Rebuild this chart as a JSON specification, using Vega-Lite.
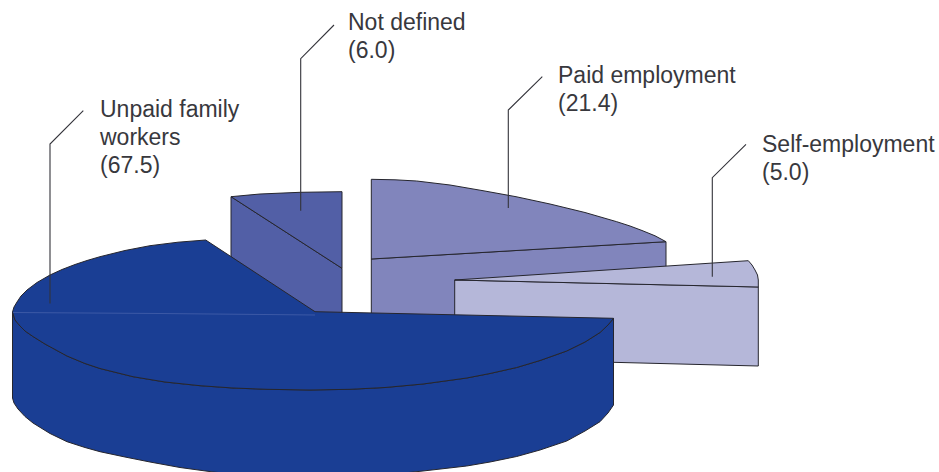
{"$schema":"https://vega.github.io/schema/vega-lite/v6.json","width":939,"height":472,"padding":0,"autosize":{"type":"fit","contains":"padding"},"background":"white","view":{"stroke":null},
"datasets":{"shapes":[
{"slice":"Paid employment","part":"paid-side","n":1,"x":371.3,"y":259},{"slice":"Paid employment","part":"paid-side","n":2,"x":666,"y":241.7},{"slice":"Paid employment","part":"paid-side","n":3,"x":666,"y":330},{"slice":"Paid employment","part":"paid-side","n":4,"x":371.3,"y":330},{"slice":"Paid employment","part":"paid-side","n":5,"x":371.3,"y":259},
{"slice":"Paid employment","part":"paid-top","n":1,"x":371.3,"y":179.3},{"slice":"Paid employment","part":"paid-top","n":2,"x":395,"y":179.8},{"slice":"Paid employment","part":"paid-top","n":3,"x":416.7,"y":181},{"slice":"Paid employment","part":"paid-top","n":4,"x":450,"y":185},{"slice":"Paid employment","part":"paid-top","n":5,"x":483,"y":190.7},{"slice":"Paid employment","part":"paid-top","n":6,"x":516,"y":196.7},{"slice":"Paid employment","part":"paid-top","n":7,"x":550,"y":204},{"slice":"Paid employment","part":"paid-top","n":8,"x":585,"y":212.5},{"slice":"Paid employment","part":"paid-top","n":9,"x":616.7,"y":221.7},{"slice":"Paid employment","part":"paid-top","n":10,"x":630,"y":226},{"slice":"Paid employment","part":"paid-top","n":11,"x":642,"y":230.5},{"slice":"Paid employment","part":"paid-top","n":12,"x":655,"y":235.8},{"slice":"Paid employment","part":"paid-top","n":13,"x":666,"y":241.7},{"slice":"Paid employment","part":"paid-top","n":14,"x":371.3,"y":259},{"slice":"Paid employment","part":"paid-top","n":15,"x":371.3,"y":179.3},
{"slice":"Not defined","part":"nd-side","n":1,"x":231,"y":196.7},{"slice":"Not defined","part":"nd-side","n":2,"x":342,"y":268.3},{"slice":"Not defined","part":"nd-side","n":3,"x":342,"y":320},{"slice":"Not defined","part":"nd-side","n":4,"x":315,"y":320},{"slice":"Not defined","part":"nd-side","n":5,"x":231,"y":256.7},{"slice":"Not defined","part":"nd-side","n":6,"x":231,"y":196.7},
{"slice":"Not defined","part":"nd-top","n":1,"x":231,"y":196.7},{"slice":"Not defined","part":"nd-top","n":2,"x":260,"y":194},{"slice":"Not defined","part":"nd-top","n":3,"x":300,"y":192.3},{"slice":"Not defined","part":"nd-top","n":4,"x":342,"y":191.7},{"slice":"Not defined","part":"nd-top","n":5,"x":342,"y":268.3},{"slice":"Not defined","part":"nd-top","n":6,"x":231,"y":196.7},
{"slice":"Self-employment","part":"self-side","n":1,"x":454.7,"y":280},{"slice":"Self-employment","part":"self-side","n":2,"x":758.3,"y":287},{"slice":"Self-employment","part":"self-side","n":3,"x":758.3,"y":366},{"slice":"Self-employment","part":"self-side","n":4,"x":613,"y":362.3},{"slice":"Self-employment","part":"self-side","n":5,"x":454.7,"y":358},{"slice":"Self-employment","part":"self-side","n":6,"x":454.7,"y":280},
{"slice":"Self-employment","part":"self-top","n":1,"x":454.7,"y":280},{"slice":"Self-employment","part":"self-top","n":2,"x":748.3,"y":260.7},{"slice":"Self-employment","part":"self-top","n":3,"x":752,"y":265},{"slice":"Self-employment","part":"self-top","n":4,"x":755,"y":270},{"slice":"Self-employment","part":"self-top","n":5,"x":757.5,"y":275},{"slice":"Self-employment","part":"self-top","n":6,"x":758.3,"y":280},{"slice":"Self-employment","part":"self-top","n":7,"x":758.3,"y":287},{"slice":"Self-employment","part":"self-top","n":8,"x":454.7,"y":280},
{"slice":"Unpaid family workers","part":"main-side","n":1,"x":12.5,"y":312},{"slice":"Unpaid family workers","part":"main-side","n":2,"x":15,"y":320},{"slice":"Unpaid family workers","part":"main-side","n":3,"x":20,"y":326},{"slice":"Unpaid family workers","part":"main-side","n":4,"x":25,"y":331},{"slice":"Unpaid family workers","part":"main-side","n":5,"x":33,"y":336.5},{"slice":"Unpaid family workers","part":"main-side","n":6,"x":45,"y":344},{"slice":"Unpaid family workers","part":"main-side","n":7,"x":67,"y":356},{"slice":"Unpaid family workers","part":"main-side","n":8,"x":85,"y":363.5},{"slice":"Unpaid family workers","part":"main-side","n":9,"x":100,"y":368.5},{"slice":"Unpaid family workers","part":"main-side","n":10,"x":133,"y":376.7},{"slice":"Unpaid family workers","part":"main-side","n":11,"x":165,"y":382},{"slice":"Unpaid family workers","part":"main-side","n":12,"x":200,"y":385.7},{"slice":"Unpaid family workers","part":"main-side","n":13,"x":233,"y":388},{"slice":"Unpaid family workers","part":"main-side","n":14,"x":267,"y":389.3},{"slice":"Unpaid family workers","part":"main-side","n":15,"x":310,"y":390},{"slice":"Unpaid family workers","part":"main-side","n":16,"x":350,"y":389.3},{"slice":"Unpaid family workers","part":"main-side","n":17,"x":385,"y":387.5},{"slice":"Unpaid family workers","part":"main-side","n":18,"x":423,"y":384},{"slice":"Unpaid family workers","part":"main-side","n":19,"x":445,"y":381},{"slice":"Unpaid family workers","part":"main-side","n":20,"x":466.7,"y":378},{"slice":"Unpaid family workers","part":"main-side","n":21,"x":490,"y":373.5},{"slice":"Unpaid family workers","part":"main-side","n":22,"x":516.7,"y":367.5},{"slice":"Unpaid family workers","part":"main-side","n":23,"x":540,"y":360.5},{"slice":"Unpaid family workers","part":"main-side","n":24,"x":566.7,"y":351},{"slice":"Unpaid family workers","part":"main-side","n":25,"x":585,"y":342},{"slice":"Unpaid family workers","part":"main-side","n":26,"x":600,"y":332.5},{"slice":"Unpaid family workers","part":"main-side","n":27,"x":608,"y":325},{"slice":"Unpaid family workers","part":"main-side","n":28,"x":613.5,"y":318.3},{"slice":"Unpaid family workers","part":"main-side","n":29,"x":613.5,"y":405},{"slice":"Unpaid family workers","part":"main-side","n":30,"x":608,"y":413},{"slice":"Unpaid family workers","part":"main-side","n":31,"x":600,"y":421.7},{"slice":"Unpaid family workers","part":"main-side","n":32,"x":585,"y":431},{"slice":"Unpaid family workers","part":"main-side","n":33,"x":566.7,"y":441},{"slice":"Unpaid family workers","part":"main-side","n":34,"x":540,"y":450},{"slice":"Unpaid family workers","part":"main-side","n":35,"x":516.7,"y":456.5},{"slice":"Unpaid family workers","part":"main-side","n":36,"x":490,"y":462},{"slice":"Unpaid family workers","part":"main-side","n":37,"x":466.7,"y":466},{"slice":"Unpaid family workers","part":"main-side","n":38,"x":423,"y":471},{"slice":"Unpaid family workers","part":"main-side","n":39,"x":385,"y":475},{"slice":"Unpaid family workers","part":"main-side","n":40,"x":350,"y":477},{"slice":"Unpaid family workers","part":"main-side","n":41,"x":310,"y":478},{"slice":"Unpaid family workers","part":"main-side","n":42,"x":260,"y":476.5},{"slice":"Unpaid family workers","part":"main-side","n":43,"x":213,"y":472},{"slice":"Unpaid family workers","part":"main-side","n":44,"x":180,"y":467.5},{"slice":"Unpaid family workers","part":"main-side","n":45,"x":150,"y":462},{"slice":"Unpaid family workers","part":"main-side","n":46,"x":125,"y":457},{"slice":"Unpaid family workers","part":"main-side","n":47,"x":100,"y":451.7},{"slice":"Unpaid family workers","part":"main-side","n":48,"x":85,"y":447.5},{"slice":"Unpaid family workers","part":"main-side","n":49,"x":67,"y":441.7},{"slice":"Unpaid family workers","part":"main-side","n":50,"x":50,"y":433.5},{"slice":"Unpaid family workers","part":"main-side","n":51,"x":33,"y":423},{"slice":"Unpaid family workers","part":"main-side","n":52,"x":25,"y":416.5},{"slice":"Unpaid family workers","part":"main-side","n":53,"x":18,"y":409},{"slice":"Unpaid family workers","part":"main-side","n":54,"x":14,"y":403},{"slice":"Unpaid family workers","part":"main-side","n":55,"x":12.5,"y":398},{"slice":"Unpaid family workers","part":"main-side","n":56,"x":12.5,"y":312},
{"slice":"Unpaid family workers","part":"main-top","n":1,"x":12.5,"y":312},{"slice":"Unpaid family workers","part":"main-top","n":2,"x":14,"y":307},{"slice":"Unpaid family workers","part":"main-top","n":3,"x":17,"y":302},{"slice":"Unpaid family workers","part":"main-top","n":4,"x":21,"y":296},{"slice":"Unpaid family workers","part":"main-top","n":5,"x":27,"y":290},{"slice":"Unpaid family workers","part":"main-top","n":6,"x":37,"y":282.5},{"slice":"Unpaid family workers","part":"main-top","n":7,"x":50,"y":275},{"slice":"Unpaid family workers","part":"main-top","n":8,"x":62,"y":269.5},{"slice":"Unpaid family workers","part":"main-top","n":9,"x":75,"y":264.5},{"slice":"Unpaid family workers","part":"main-top","n":10,"x":87,"y":260.5},{"slice":"Unpaid family workers","part":"main-top","n":11,"x":100,"y":256.7},{"slice":"Unpaid family workers","part":"main-top","n":12,"x":125,"y":250.5},{"slice":"Unpaid family workers","part":"main-top","n":13,"x":150,"y":245.7},{"slice":"Unpaid family workers","part":"main-top","n":14,"x":178,"y":242.2},{"slice":"Unpaid family workers","part":"main-top","n":15,"x":205.7,"y":240},{"slice":"Unpaid family workers","part":"main-top","n":16,"x":315,"y":311.7},{"slice":"Unpaid family workers","part":"main-top","n":17,"x":613.5,"y":318.3},{"slice":"Unpaid family workers","part":"main-top","n":18,"x":608,"y":325},{"slice":"Unpaid family workers","part":"main-top","n":19,"x":600,"y":332.5},{"slice":"Unpaid family workers","part":"main-top","n":20,"x":585,"y":342},{"slice":"Unpaid family workers","part":"main-top","n":21,"x":566.7,"y":351},{"slice":"Unpaid family workers","part":"main-top","n":22,"x":540,"y":360.5},{"slice":"Unpaid family workers","part":"main-top","n":23,"x":516.7,"y":367.5},{"slice":"Unpaid family workers","part":"main-top","n":24,"x":490,"y":373.5},{"slice":"Unpaid family workers","part":"main-top","n":25,"x":466.7,"y":378},{"slice":"Unpaid family workers","part":"main-top","n":26,"x":445,"y":381},{"slice":"Unpaid family workers","part":"main-top","n":27,"x":423,"y":384},{"slice":"Unpaid family workers","part":"main-top","n":28,"x":385,"y":387.5},{"slice":"Unpaid family workers","part":"main-top","n":29,"x":350,"y":389.3},{"slice":"Unpaid family workers","part":"main-top","n":30,"x":310,"y":390},{"slice":"Unpaid family workers","part":"main-top","n":31,"x":267,"y":389.3},{"slice":"Unpaid family workers","part":"main-top","n":32,"x":233,"y":388},{"slice":"Unpaid family workers","part":"main-top","n":33,"x":200,"y":385.7},{"slice":"Unpaid family workers","part":"main-top","n":34,"x":165,"y":382},{"slice":"Unpaid family workers","part":"main-top","n":35,"x":133,"y":376.7},{"slice":"Unpaid family workers","part":"main-top","n":36,"x":100,"y":368.5},{"slice":"Unpaid family workers","part":"main-top","n":37,"x":85,"y":363.5},{"slice":"Unpaid family workers","part":"main-top","n":38,"x":67,"y":356},{"slice":"Unpaid family workers","part":"main-top","n":39,"x":45,"y":344},{"slice":"Unpaid family workers","part":"main-top","n":40,"x":33,"y":336.5},{"slice":"Unpaid family workers","part":"main-top","n":41,"x":25,"y":331},{"slice":"Unpaid family workers","part":"main-top","n":42,"x":20,"y":326},{"slice":"Unpaid family workers","part":"main-top","n":43,"x":15,"y":320},{"slice":"Unpaid family workers","part":"main-top","n":44,"x":12.5,"y":312}
],
"sheen":[{"n":1,"x":13,"y":312.5},{"n":2,"x":160,"y":313.5},{"n":3,"x":315,"y":315}],
"leaders":[
{"slice":"Unpaid family workers","n":1,"x":83.3,"y":110.7},{"slice":"Unpaid family workers","n":2,"x":50,"y":144},{"slice":"Unpaid family workers","n":3,"x":50,"y":303.5},
{"slice":"Not defined","n":1,"x":334,"y":25},{"slice":"Not defined","n":2,"x":300.7,"y":58.7},{"slice":"Not defined","n":3,"x":300.7,"y":210.7},
{"slice":"Paid employment","n":1,"x":542.3,"y":76.7},{"slice":"Paid employment","n":2,"x":508.3,"y":110},{"slice":"Paid employment","n":3,"x":508.3,"y":208},
{"slice":"Self-employment","n":1,"x":746,"y":144.3},{"slice":"Self-employment","n":2,"x":712.3,"y":177.7},{"slice":"Self-employment","n":3,"x":712.3,"y":276.7}],
"labels":[
{"text":"Unpaid family","x":100,"y":117},{"text":"workers","x":100,"y":145},{"text":"(67.5)","x":100,"y":173},
{"text":"Not defined","x":348,"y":30},{"text":"(6.0)","x":348,"y":58},
{"text":"Paid employment","x":558,"y":83},{"text":"(21.4)","x":558,"y":111},
{"text":"Self-employment","x":762,"y":152},{"text":"(5.0)","x":762,"y":180}]},
"layer":[
{"data":{"name":"shapes"},"mark":{"type":"line","stroke":"#26262e","strokeWidth":1,"strokeJoin":"round","interpolate":"linear","clip":true},
"encoding":{"x":{"field":"x","type":"quantitative","scale":{"domain":[0,939],"nice":false,"zero":false},"axis":null},"y":{"field":"y","type":"quantitative","scale":{"domain":[472,0],"nice":false,"zero":false},"axis":null},"detail":{"field":"part"},"order":{"field":"n"},"fill":{"field":"slice","type":"nominal","legend":null,"scale":{"domain":["Unpaid family workers","Not defined","Paid employment","Self-employment"],"range":["#1a3e94","#525fa6","#8185bc","#b5b7d9"]}}}},
{"data":{"name":"sheen"},"mark":{"type":"line","stroke":"#4a64ae","strokeWidth":0.7},"encoding":{"x":{"field":"x","type":"quantitative","scale":{"domain":[0,939],"nice":false,"zero":false},"axis":null},"y":{"field":"y","type":"quantitative","scale":{"domain":[472,0],"nice":false,"zero":false},"axis":null},"order":{"field":"n"}}},
{"data":{"name":"leaders"},"mark":{"type":"line","stroke":"#33333a","strokeWidth":1.1},"encoding":{"x":{"field":"x","type":"quantitative","scale":{"domain":[0,939],"nice":false,"zero":false},"axis":null},"y":{"field":"y","type":"quantitative","scale":{"domain":[472,0],"nice":false,"zero":false},"axis":null},"detail":{"field":"slice"},"order":{"field":"n"}}},
{"data":{"name":"labels"},"mark":{"type":"text","align":"left","baseline":"alphabetic","font":"Liberation Sans","fontSize":23,"fill":"#38383d"},"encoding":{"x":{"field":"x","type":"quantitative","scale":{"domain":[0,939],"nice":false,"zero":false},"axis":null},"y":{"field":"y","type":"quantitative","scale":{"domain":[472,0],"nice":false,"zero":false},"axis":null},"text":{"field":"text"}}}
]}
